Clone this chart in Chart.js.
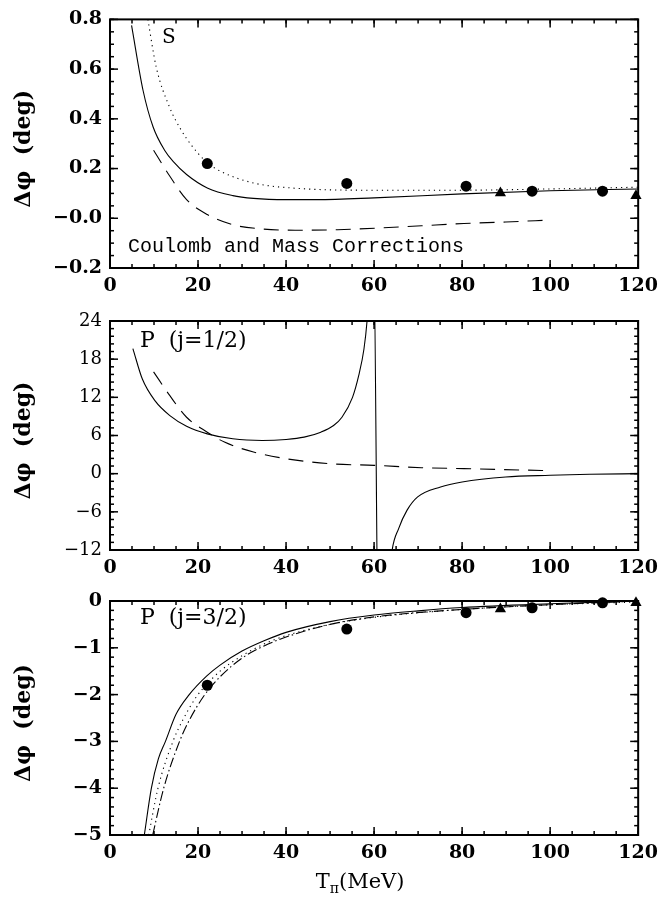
<!DOCTYPE html>
<html>
<head>
<meta charset="utf-8">
<script src="https://cdn.jsdelivr.net/npm/chart.js@4/dist/chart.umd.min.js"></script>
<style>
  html, body { margin: 0; padding: 0; background: #fff; }
  #wrap { position: relative; width: 665px; height: 897px; background: #fff; }
  canvas { position: absolute; left: 0; }
</style>
</head>
<body>
<div id="wrap">
  <canvas id="c1" width="665" height="300" style="top:0px"></canvas>
  <canvas id="c2" width="665" height="280" style="top:300px"></canvas>
  <canvas id="c3" width="665" height="317" style="top:580px"></canvas>
</div>
<script>
// ---------------- DATA ----------------
const xTickValues = [0, 20, 40, 60, 80, 100, 120];
const xTickLabels = ['0', '20', '40', '60', '80', '100', '120'];

// Panel 1: S wave
const p1YTickValues = [-0.2, 0, 0.2, 0.4, 0.6, 0.8];
const p1YTickLabels = ['\u22120.2', '\u22120.0', '0.2', '0.4', '0.6', '0.8'];
const p1SolidX = [4.9, 7.5, 9.8, 12.4, 14.5, 17.4, 22.1, 27.9, 32.6, 40, 47, 60, 80, 100, 120];
const p1SolidY = [0.776, 0.515, 0.367, 0.274, 0.226, 0.176, 0.122, 0.091, 0.080, 0.075, 0.075, 0.082, 0.098, 0.111, 0.118];
const p1DotX = [8.6, 10.5, 13.5, 16.0, 18.8, 22, 25, 32.6, 42, 60, 80, 100, 120];
const p1DotY = [0.80, 0.608, 0.448, 0.36, 0.287, 0.225, 0.19, 0.142, 0.121, 0.113, 0.113, 0.118, 0.125];
const p1DashX = [9.9, 13.6, 17.4, 22.1, 27.9, 34.6, 42.2, 51.7, 61.3, 70.8, 80.4, 89.9, 100];
const p1DashY = [0.274, 0.169, 0.075, 0.015, -0.026, -0.043, -0.048, -0.046, -0.039, -0.030, -0.021, -0.015, -0.007];
const p1CircX = [22.1, 53.8, 80.9, 95.9, 111.9];
const p1CircY = [0.220, 0.140, 0.129, 0.109, 0.109];
const p1TriX = [88.7, 119.5];
const p1TriY = [0.102, 0.091];

// Panel 2: P (j=1/2)
const p2YTickValues = [-12, -6, 0, 6, 12, 18, 24];
const p2YTickLabels = ['\u221212', '\u22126', '0', '6', '12', '18', '24'];
const p2SolidX = [5.2, 7.35, 10.2, 13.6, 17.4, 22.1, 27.9, 34.6, 40, 44.1, 47.9, 50.8, 52.7, 55.1, 56.5, 57.7, 58.4, 59.8, 61.2, 62.8, 64.0, 65.6, 67.5, 69.9, 75.1, 80, 89.9, 100, 109, 120];
const p2SolidY = [19.67, 14.87, 11.48, 9.13, 7.46, 6.26, 5.48, 5.22, 5.38, 5.74, 6.52, 7.57, 8.87, 12.0, 15.4, 19.6, 24.0, 40, -40, -22, -12.5, -8.6, -5.73, -3.65, -2.08, -1.30, -0.52, -0.26, -0.10, 0.0];
const p2DashX = [9.9, 13.6, 17.4, 22.1, 26, 32.6, 40, 49.8, 60, 70.8, 80.4, 100];
const p2DashY = [16.0, 12.26, 8.87, 6.52, 4.96, 3.4, 2.35, 1.57, 1.31, 0.94, 0.79, 0.47];

// Panel 3: P (j=3/2)
const p3YTickValues = [-5, -4, -3, -2, -1, 0];
const p3YTickLabels = ['\u22125', '\u22124', '\u22123', '\u22122', '\u22121', '0'];
const p3SolidX = [7.8, 9.4, 11, 12.6, 15, 18, 22, 25, 30, 35, 40, 50, 60, 70, 80, 100, 120];
const p3SolidY = [-5, -4, -3.37, -3, -2.42, -2, -1.6, -1.37, -1.07, -0.85, -0.67, -0.44, -0.30, -0.21, -0.14, -0.06, 0.0];
const p3DotX = [8.8, 10.9, 14.3, 16.5, 19.6, 22, 25, 30, 35, 40, 50, 60, 80, 100, 120];
const p3DotY = [-5, -4, -3, -2.55, -2.05, -1.78, -1.5, -1.17, -0.92, -0.74, -0.50, -0.35, -0.18, -0.08, -0.02];
const p3DashDotX = [9.7, 12.2, 15.8, 18, 21.4, 25, 30, 35, 40, 50, 60, 80, 100, 112, 120];
const p3DashDotY = [-5, -4, -3, -2.55, -2.02, -1.62, -1.22, -0.96, -0.77, -0.50, -0.34, -0.18, -0.08, -0.03, 0.0];
const p3CircX = [22.1, 53.8, 80.9, 95.9, 111.9];
const p3CircY = [-1.80, -0.60, -0.25, -0.145, -0.04];
const p3TriX = [88.7, 119.5];
const p3TriY = [-0.17, -0.04];

// ---------------- HELPERS ----------------
const SERIF = '"DejaVu Serif", "Liberation Serif", serif';
const pts = (xs, ys) => xs.map((x, i) => ({ x: x, y: ys[i] }));

function lineDS(xs, ys, dash) {
  return { data: pts(xs, ys), showLine: true, borderColor: '#000', borderWidth: 1.1,
           borderDash: dash || [], pointRadius: 0, cubicInterpolationMode: 'monotone', clip: 0 };
}
function markDS(xs, ys, style, r) {
  return { data: pts(xs, ys), showLine: false, pointStyle: style, pointRadius: r,
           backgroundColor: '#000', borderColor: '#000', borderWidth: 0, clip: false };
}

const frameTicks = {
  id: 'frameTicks',
  afterDatasetsDraw(chart, args, o) {
    const { ctx, chartArea: a } = chart;
    const xs = chart.scales.x, ys = chart.scales.y;
    ctx.save();
    ctx.strokeStyle = '#000';
    ctx.lineWidth = 1.5;
    const seg = (x1, y1, x2, y2) => { ctx.beginPath(); ctx.moveTo(x1, y1); ctx.lineTo(x2, y2); ctx.stroke(); };
    const doX = (step, len) => {
      const n = Math.round((xs.max - xs.min) / step);
      for (let i = 0; i <= n; i++) {
        const p = xs.getPixelForValue(xs.min + i * step);
        seg(p, a.bottom, p, a.bottom - len); seg(p, a.top, p, a.top + len);
      }
    };
    const doY = (step, len) => {
      const n = Math.round((ys.max - ys.min) / step);
      for (let i = 0; i <= n; i++) {
        const p = ys.getPixelForValue(ys.min + i * step);
        seg(a.left, p, a.left + len, p); seg(a.right, p, a.right - len, p);
      }
    };
    doX(o.xMinor, 4); doX(o.xMajor, 8);
    doY(o.yMinor, 4); doY(o.yMajor, 8);
    ctx.lineWidth = 2;
    ctx.strokeRect(a.left, a.top, a.right - a.left, a.bottom - a.top);
    // annotations (text placed in data coordinates)
    (o.texts || []).forEach(t => {
      ctx.font = t.font;
      ctx.fillStyle = '#000';
      ctx.textAlign = t.align || 'left';
      ctx.textBaseline = 'middle';
      ctx.fillText(t.text, xs.getPixelForValue(t.x), ys.getPixelForValue(t.y));
    });
    // y axis title
    ctx.save();
    ctx.translate(24, (a.top + a.bottom) / 2 + 5);
    ctx.rotate(-Math.PI / 2);
    ctx.font = 'bold 22px ' + SERIF;
    ctx.textAlign = 'center';
    ctx.textBaseline = 'middle';
    ctx.fillText('\u0394\u03c6  (deg)', 0, 0);
    ctx.restore();
    if (o.xTitle) {
      const cx = (a.left + a.right) / 2 - 14;
      const cy = o.xTitleY;
      ctx.textBaseline = 'alphabetic';
      ctx.textAlign = 'left';
      ctx.font = '21px ' + SERIF;
      const w1 = ctx.measureText('T').width;
      ctx.font = '14px ' + SERIF;
      const w2 = ctx.measureText('\u03c0').width;
      ctx.font = '21px ' + SERIF;
      const w3 = ctx.measureText('(MeV)').width;
      let x0 = cx - (w1 + w2 + w3) / 2;
      ctx.fillText('T', x0, cy);
      ctx.font = '14px ' + SERIF;
      ctx.fillText('\u03c0', x0 + w1, cy + 5);
      ctx.font = '21px ' + SERIF;
      ctx.fillText('(MeV)', x0 + w1 + w2, cy);
    }
    ctx.restore();
  }
};

function makeChart(id, datasets, yMin, yMax, yVals, yLabels, yBold, padTop, xH, frameOpts) {
  return new Chart(document.getElementById(id), {
    type: 'scatter',
    data: { datasets: datasets },
    options: {
      responsive: false, animation: false, devicePixelRatio: 1,
      layout: { padding: { top: padTop, right: 23, left: 0, bottom: 0 } },
      plugins: { legend: { display: false }, tooltip: { enabled: false }, frameTicks: frameOpts },
      scales: {
        x: {
          type: 'linear', min: 0, max: 120,
          grid: { display: false, drawTicks: false }, border: { display: false },
          afterBuildTicks: s => { s.ticks = xTickValues.map(v => ({ value: v })); },
          afterFit: s => { s.height = xH; },
          ticks: { autoSkip: false, maxRotation: 0, padding: 7, color: '#000',
                   font: { family: SERIF, weight: 'bold', size: 19 },
                   callback: (v, i) => xTickLabels[i] }
        },
        y: {
          type: 'linear', min: yMin, max: yMax,
          grid: { display: false, drawTicks: false }, border: { display: false },
          afterBuildTicks: s => { s.ticks = yVals.map(v => ({ value: v })); },
          afterFit: s => { s.width = 110; },
          ticks: { autoSkip: false, padding: 8, color: '#000',
                   font: { family: SERIF, weight: yBold ? 'bold' : 'normal', size: yBold ? 19 : 18 },
                   callback: (v, i) => yLabels[i] }
        }
      }
    },
    plugins: [frameTicks]
  });
}

makeChart('c1', [
    lineDS(p1SolidX, p1SolidY),
    lineDS(p1DotX, p1DotY, [1.2, 4]),
    lineDS(p1DashX, p1DashY, [15, 9]),
    markDS(p1CircX, p1CircY, 'circle', 5.5),
    markDS(p1TriX, p1TriY, 'triangle', 6.5)
  ], -0.2, 0.8, p1YTickValues, p1YTickLabels, true, 19, 32,
  { xMajor: 20, xMinor: 5, yMajor: 0.2, yMinor: 0.05,
    texts: [ { text: 'S', x: 11.8, y: 0.728, font: '20px ' + SERIF },
             { text: 'Coulomb and Mass Corrections', x: 4.1, y: -0.116, font: '20px "Liberation Mono", monospace' } ] });

makeChart('c2', [
    lineDS(p2SolidX, p2SolidY),
    lineDS(p2DashX, p2DashY, [15, 9])
  ], -12, 24, p2YTickValues, p2YTickLabels, false, 21, 30,
  { xMajor: 20, xMinor: 5, yMajor: 6, yMinor: 1.2,
    texts: [ { text: 'P  (j=1/2)', x: 6.8, y: 20.8, font: '22px ' + SERIF } ] });

makeChart('c3', [
    lineDS(p3SolidX, p3SolidY),
    lineDS(p3DotX, p3DotY, [1.2, 4]),
    lineDS(p3DashDotX, p3DashDotY, [10, 3, 1.5, 3]),
    markDS(p3CircX, p3CircY, 'circle', 5.5),
    markDS(p3TriX, p3TriY, 'triangle', 6.5)
  ], -5, 0, p3YTickValues, p3YTickLabels, true, 21, 62,
  { xMajor: 20, xMinor: 5, yMajor: 1, yMinor: 0.2, xTitle: true, xTitleY: 308,
    texts: [ { text: 'P  (j=3/2)', x: 6.8, y: -0.36, font: '22px ' + SERIF } ] });
</script>
</body>
</html>
